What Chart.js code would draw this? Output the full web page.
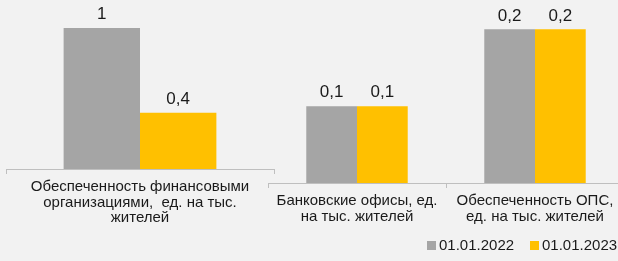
<!DOCTYPE html>
<html>
<head>
<meta charset="utf-8">
<script src="https://cdn.jsdelivr.net/npm/chart.js@4/dist/chart.umd.min.js"></script>
<style>
  html, body { margin: 0; padding: 0; background: #f2f2f2; overflow: hidden; width: 618px; height: 261px; }
  #left { position: absolute; left: 0; top: 0; }
  #right { position: absolute; left: 250px; top: 0; }
  .legend { position: absolute; top: 236px; font: 15px "Liberation Sans", Arial, sans-serif; color: #1a1a1a; }
  .legend span { display: inline-block; width: 9px; height: 9px; margin-right: 3px; vertical-align: 0px; }
</style>
</head>
<body>
<canvas id="left" width="290" height="229"></canvas>
<canvas id="right" width="400" height="243"></canvas>
<div class="legend" style="left:427px"><span style="background:#a5a5a5"></span>01.01.2022</div>
<div class="legend" style="left:530px"><span style="background:#ffc000"></span>01.01.2023</div>
<script>
const seriesNames = ["01.01.2022", "01.01.2023"];
const colors = ["#a5a5a5", "#ffc000"];

// left panel
const leftCategories = [["Обеспеченность финансовыми", "организациями,  ед. на тыс.", "жителей"]];
const left2022 = [1];
const left2023 = [0.4];

// right panel
const rightCategories = [
    ["Банковские офисы, ед.", "на тыс. жителей"],
    ["Обеспеченность ОПС,", "ед. на тыс. жителей"]
];
const right2022 = [0.1, 0.2];
const right2023 = [0.1, 0.2];

const font = "'Liberation Sans', Arial, sans-serif";

const valueLabels = {
    id: "valueLabels",
    afterDatasetsDraw(chart) {
        const ctx = chart.ctx;
        ctx.save();
        ctx.font = "17px " + font;
        ctx.fillStyle = "#1a1a1a";
        ctx.textAlign = "center";
        ctx.textBaseline = "bottom";
        chart.data.datasets.forEach((ds, i) => {
            chart.getDatasetMeta(i).data.forEach((bar, j) => {
                ctx.fillText(String(ds.data[j]).replace(".", ","), bar.x, bar.y - 5);
            });
        });
        ctx.restore();
    }
};

function makeChart(id, labels, a, b, yMax, pad) {
    return new Chart(document.getElementById(id), {
        type: "bar",
        data: {
            labels: labels,
            datasets: [
                { label: seriesNames[0], data: a, backgroundColor: colors[0] },
                { label: seriesNames[1], data: b, backgroundColor: colors[1] }
            ]
        },
        options: {
            responsive: false,
            animation: false,
            devicePixelRatio: 1,
            layout: { padding: pad },
            datasets: { bar: { categoryPercentage: 0.57, barPercentage: 1 } },
            plugins: { legend: { display: false }, tooltip: { enabled: false } },
            scales: {
                x: {
                    grid: { display: true, drawOnChartArea: false, drawTicks: true, tickLength: 5, color: "#bfbfbf", lineWidth: 1 },
                    border: { display: true, color: "#bfbfbf", width: 1 },
                    ticks: { color: "#1a1a1a", font: { family: font, size: 15, lineHeight: 1.04 }, padding: 5, maxRotation: 0, autoSkip: false },
                    afterFit: s => { s.height = 60; }
                },
                y: { display: false, min: 0, max: yMax }
            }
        },
        plugins: [valueLabels]
    });
}

makeChart("left", leftCategories, left2022, left2023, 1.1, { left: 6, right: 16, top: 14, bottom: 0 });
makeChart("right", rightCategories, right2022, right2023, 0.22, { left: 18, right: 26, top: 14, bottom: 0 });
</script>
</body>
</html>
